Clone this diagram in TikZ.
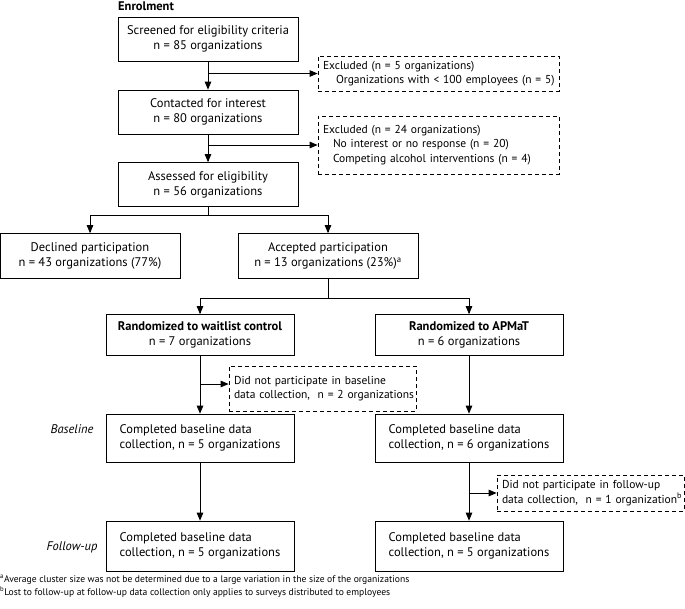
\documentclass[tikz,border=0pt]{standalone}
\usepackage{fontspec}
\setmainfont{PT Sans}
\usetikzlibrary{arrows}

\tikzset{
  box/.style={draw, line width=0.8pt, minimum width=180pt, minimum height=44pt,
    inner sep=0pt, align=center, font=\fontsize{12.5}{15}\selectfont},
  armbox/.style={box, minimum width=188pt, minimum height=41pt},
  databox/.style={box, minimum width=188pt, minimum height=48pt, align=left},
  exbox/.style={draw, line width=0.8pt, dash pattern=on 4pt off 3pt, inner xsep=5pt,
    inner ysep=0pt, align=left, font=\fontsize{11.5}{14.5}\selectfont},
  arr/.style={-triangle 45, line width=0.8pt},
  phase/.style={font=\fontsize{12.5}{15}\selectfont\itshape},
  note/.style={anchor=west, inner sep=0pt, font=\fontsize{9.6}{11}\selectfont}
}

\begin{document}
\begin{tikzpicture}[x=1pt, y=-1pt]
\useasboundingbox (0,0) rectangle (685,608);

\node [anchor=west, inner sep=0pt, font=\fontsize{12.5}{15}\selectfont\bfseries] (enrol) at (118,6) {Enrolment};

% enrolment
\node [box] (screen) at (208,39) {Screened for eligibility criteria\\ n = 85 organizations};
\node [box] (contact) at (208,112) {Contacted for interest\\ n = 80 organizations};
\node [box] (assess) at (208,184.5) {Assessed for eligibility\\ n = 56 organizations};
\node [exbox, text width=231pt, minimum height=35pt] (excl1) at (438.5,73.5)
  {\mbox{Excluded (n = 5 organizations)}\\ \mbox{\hspace*{13pt}Organizations with < 100 employees (n = 5)}};
\node [exbox, text width=231pt, minimum height=58pt] (excl2) at (438.5,145)
  {\mbox{Excluded (n = 24 organizations)}\\ \mbox{\hspace*{10pt}No interest or no response (n = 20)}\\ \mbox{\hspace*{10pt}Competing alcohol interventions (n = 4)}};

\node [box, minimum height=45pt] (declined) at (90,256) {Declined participation\\ n = 43 organizations (77\%)};
\node [box, minimum height=45pt] (accepted) at (328,256) {Accepted participation\\ n = 13 organizations (23\%)\textsuperscript{a}};

% allocation
\node [armbox] (waitlist) at (200,335) {\textbf{Randomized to waitlist control}\\ n = 7 organizations};
\node [armbox] (apmat) at (469,335) {\textbf{Randomized to APMaT}\\ n = 6 organizations};
\node [exbox, text width=177pt, minimum height=45pt] (nobase) at (322.5,388.5)
  {\mbox{Did not participate in baseline}\\ \mbox{data collection,\ \ n = 2 organizations}};

\node [databox] (base1) at (200,438) {Completed baseline data\\ collection, n = 5 organizations};
\node [databox] (base2) at (469,438) {Completed baseline data\\ collection, n = 6 organizations};
\node [exbox, text width=177pt, minimum height=36pt] (nofollow) at (590.5,493)
  {\mbox{Did not participate in follow-up}\\ \mbox{data collection,\ \ n = 1 organization\textsuperscript{b}}};

\node [databox, minimum height=50pt] (follow1) at (200,546) {Completed baseline data\\ collection, n = 5 organizations};
\node [databox, minimum height=50pt] (follow2) at (469,546) {Completed baseline data\\ collection, n = 5 organizations};

\node [phase] (baseline) at (72,429) {Baseline};
\node [phase] (followup) at (72,547) {Follow-up};

% connectors
\draw [arr] (screen) -- (contact);
\draw [arr] (screen.south |- excl1.west) -- (excl1.west);
\draw [arr] (contact) -- (assess);
\draw [arr] (contact.south |- excl2.west) -- (excl2.west);

\draw [line width=0.8pt] (assess.south) -- ++(0,8) coordinate (split1);
\draw [arr] (split1) -| (declined.north);
\draw [arr] (split1) -| (accepted.north);

\draw [line width=0.8pt] (accepted.south) -- ++(0,19) coordinate (split2);
\draw [arr] (split2) -| (waitlist.north);
\draw [arr] (split2) -| (apmat.north);

\draw [arr] (waitlist) -- (base1);
\draw [arr] ([yshift=4.5pt]nobase.west -| waitlist.south) -- ([yshift=4.5pt]nobase.west);
\draw [arr] (apmat) -- (base2);
\draw [arr] (base1) -- (follow1);
\draw [arr] (base2) -- (follow2);
\draw [arr] (nofollow.west -| base2.south) -- (nofollow.west);

\node [note] (notea) at (0,580) {\textsuperscript{a}Average cluster size was not be determined due to a large variation in the size of the organizations};
\node [note] (noteb) at (0,592) {\textsuperscript{b}Lost to follow-up at follow-up data collection only applies to surveys distributed to employees};
\end{tikzpicture}
\end{document}
